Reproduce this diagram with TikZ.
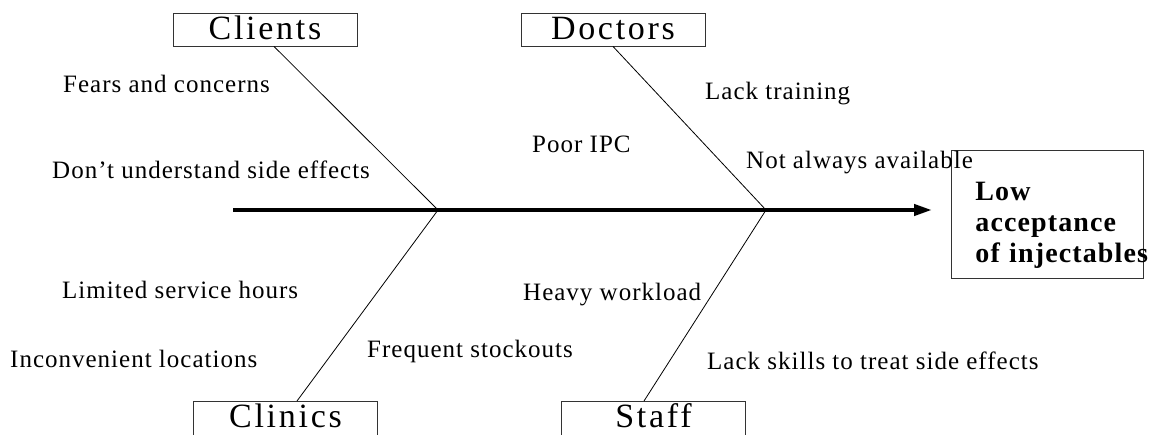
\documentclass[tikz,border=0pt]{standalone}
\usepackage{fontspec}
\setmainfont{Liberation Serif}
\newfontfamily\lblfont[LetterSpace=4]{Liberation Serif}
\newfontfamily\hdfont[LetterSpace=8]{Liberation Serif}
\newfontfamily\goalfont[LetterSpace=4]{Liberation Serif}
\usetikzlibrary{arrows.meta}
\tikzset{
  lbl/.style={anchor=base west, inner sep=0pt, font=\lblfont\fontsize{25}{30}\selectfont},
  cat/.style={draw=black!80, line width=0.9pt, minimum width=184pt, minimum height=33pt,
    inner sep=0pt, text height=24pt, text depth=5pt, font=\hdfont\fontsize{34}{40}\selectfont},
  catlow/.style={cat, minimum height=40pt, text depth=12pt, anchor=north},
  bone/.style={line width=0.8pt},
  spine/.style={line width=4pt, -{Triangle[length=18pt,width=11pt]}},
  goalbox/.style={draw=black!80, line width=0.9pt, anchor=north west, text width=144pt,
    inner xsep=24pt, inner ysep=0pt, minimum height=128pt, align=left,
    font=\goalfont\bfseries\fontsize{28}{31}\selectfont}
}
\begin{document}
\begin{tikzpicture}[x=1pt,y=-1pt]
  \fill[white] (0,0) rectangle (1149,434);
  \path[use as bounding box, clip] (0,0) rectangle (1149,434);

  % category boxes
  \node[cat] (clients) at (265,29.5) {Clients};
  \node[cat] (doctors) at (613,29.5) {Doctors};
  \node[catlow] (clinics) at (285.5,401) {Clinics};
  \node[catlow] (staff) at (653.5,401) {Staff};

  % effect box
  \node[goalbox] (goal) at (951,150) {\rule{0pt}{39.9pt}Low\\acceptance\\\mbox{of injectables}};

  % spine
  \coordinate (tail) at (233,210);
  \coordinate (head) at (932,210);
  \coordinate (j1) at (438,210);
  \coordinate (j2) at (766,210);
  \draw[spine] (tail) -- (head);

  % bones
  \draw[bone] ([xshift=9pt]clients.south) -- (j1);
  \draw[bone] (doctors.south) -- (j2);
  \draw[bone] (j1) -- ([xshift=11.5pt]clinics.north);
  \draw[bone] (j2) -- ([xshift=-9.5pt]staff.north);

  % causes
  \node[lbl] (c1) at (63,92) {Fears and concerns};
  \node[lbl] (c2) at (52,178) {Don’t understand side effects};
  \node[lbl] (d1) at (532,152) {Poor IPC};
  \node[lbl] (d2) at (705,99) {Lack training};
  \node[lbl] (d3) at (746,168) {Not always available};
  \node[lbl] (k1) at (62,298) {Limited service hours};
  \node[lbl] (k2) at (10,367) {Inconvenient locations};
  \node[lbl] (k3) at (367,357) {Frequent stockouts};
  \node[lbl] (s1) at (523,300) {Heavy workload};
  \node[lbl] (s2) at (707,369) {Lack skills to treat side effects};
\end{tikzpicture}
\end{document}
